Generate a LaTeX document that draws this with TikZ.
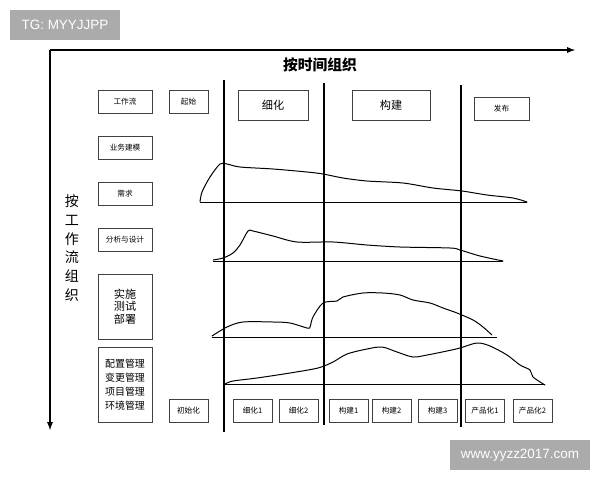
\documentclass[tikz,border=0pt]{standalone}
\usepackage{fontspec}
\setmainfont{Liberation Sans}
\newfontfamily\cjk{Noto Sans CJK SC}
\tikzset{
  wbox/.style={draw=black!75, line width=0.7pt, inner sep=0pt, font=\cjk\fontsize{6.5}{8}\selectfont},
  phase/.style={draw=black!75, line width=0.8pt, inner sep=0pt, font=\cjk\fontsize{9.5}{11}\selectfont},
  hand/.style={line width=0.85pt, line join=round, line cap=round},
  mark line/.style={line width=0.8pt},
  watermark/.style={fill=black!33, text=white, inner sep=0pt, font=\fontsize{11.5}{13}\selectfont}
}
\begin{document}
\begin{tikzpicture}[x=0.03cm, y=-0.03cm]
  \def\u{0.03cm}
  \useasboundingbox (0,0) rectangle (600,480);

  % Watermarks
  \node[watermark, minimum width=110*\u, minimum height=30*\u] (tg) at (65,25) {TG: MYYJJPP};
  \node[watermark, minimum width=140*\u, minimum height=30*\u] (site) at (520,455) {www.yyzz2017.com};

  % Axes
  \coordinate (origin) at (50,50);
  \coordinate (tend) at (575,50);
  \coordinate (wend) at (50,430);
  \draw[line width=1.3pt, -latex] (origin) -- (tend);
  \draw[line width=1.3pt, -latex] (origin) -- (wend);
  \node[font=\cjk\fontsize{12.6}{14}\selectfont\bfseries] (timelabel) at (320,65) {按时间组织};
  \node[font=\cjk\fontsize{12}{16}\selectfont, align=center] (flowlabel) at (72,248) {按\\工\\作\\流\\组\\织};

  % Workflows
  \node[wbox, minimum width=54*\u, minimum height=23*\u] (workflow) at (125,101.5) {工作流};
  \node[wbox, minimum width=54*\u, minimum height=23*\u] (bizmodel) at (125,147.5) {业务建模};
  \node[wbox, minimum width=54*\u, minimum height=23*\u] (require) at (125,193.5) {需求};
  \node[wbox, minimum width=54*\u, minimum height=23*\u] (design) at (125,239.5) {分析与设计};
  \node[wbox, minimum width=54*\u, minimum height=65*\u, align=center,
        font=\cjk\fontsize{9.5}{10.6}\selectfont] (impl) at (125,306.5) {实施\\测试\\部署};
  \node[wbox, minimum width=54*\u, minimum height=75*\u, align=center,
        font=\cjk\fontsize{8.5}{12}\selectfont] (config) at (125,384.5) {配置管理\\变更管理\\项目管理\\环境管理};

  % Phases
  \node[wbox, minimum width=39*\u, minimum height=23*\u] (start) at (188.5,101.5) {起始};
  \node[phase, minimum width=70*\u, minimum height=30*\u] (elab) at (273,105) {细化};
  \node[phase, minimum width=78*\u, minimum height=30*\u] (build) at (391,105) {构建};
  \node[wbox, minimum width=55*\u, minimum height=23*\u] (release) at (501.5,108.5) {发布};

  % Iterations
  \foreach \x/\name/\txt in {188.5/init/初始化, 252.5/elabA/细化1, 298.5/elabB/细化2,
      348.5/buildA/构建1, 391.5/buildB/构建2, 437.5/buildC/构建3,
      485/prodA/产品化1, 532.5/prodB/产品化2}{
    \node[wbox, minimum width=39*\u, minimum height=23*\u] (\name) at (\x,410.5) {\txt};
  }

  % Phase borders
  \draw[line width=1.3pt] (224,80) -- (224,432);
  \draw[line width=1.3pt] (324,83) -- (324,425);
  \draw[line width=1.3pt] (461,85) -- (461,427);

  % Base lines
  \draw[mark line] (200,202) -- (527,202);
  \draw[mark line] (213,261) -- (503,261);
  \draw[mark line] (212,337) -- (497,337);
  \draw[mark line] (224,384) -- (545,384);

  % Requirements
  \draw[hand] plot[smooth, tension=0.5] coordinates {(200,202) (202,192) (210,177) (220,164)
    (227,164) (240,167) (273,169) (307,172) (323,174) (343,178) (367,181) (403,183)
    (433,188) (462,191) (487,195) (513,198) (527,202)};

  % Analysis and design
  \draw[hand] plot[smooth, tension=0.5] coordinates {(213,260) (223,258) (233,253) (240,245)
    (248,231) (253,231) (273,236) (297,242) (333,242) (367,245) (400,247) (450,248)
    (460,250) (480,256) (503,261)};

  % Implementation
  \draw[hand] plot[smooth, tension=0.5] coordinates {(212,336) (227,327) (243,322) (273,322)
    (290,323) (307,328) (310,327) (313,317) (323,303) (337,301) (343,297) (363,293)
    (383,293) (400,295) (413,300) (430,303) (443,308) (457,313) (473,320) (483,327) (492,335)};

  % Configuration
  \draw[hand] plot[smooth, tension=0.5] coordinates {(225,384) (233,381) (257,378) (290,373)
    (318,368) (333,362) (347,354) (367,349) (382,347) (397,352) (413,357) (427,355)
    (447,351) (460,348) (477,343) (490,346) (507,355) (520,365) (530,370) (533,377) (545,385)};
\end{tikzpicture}
\end{document}
